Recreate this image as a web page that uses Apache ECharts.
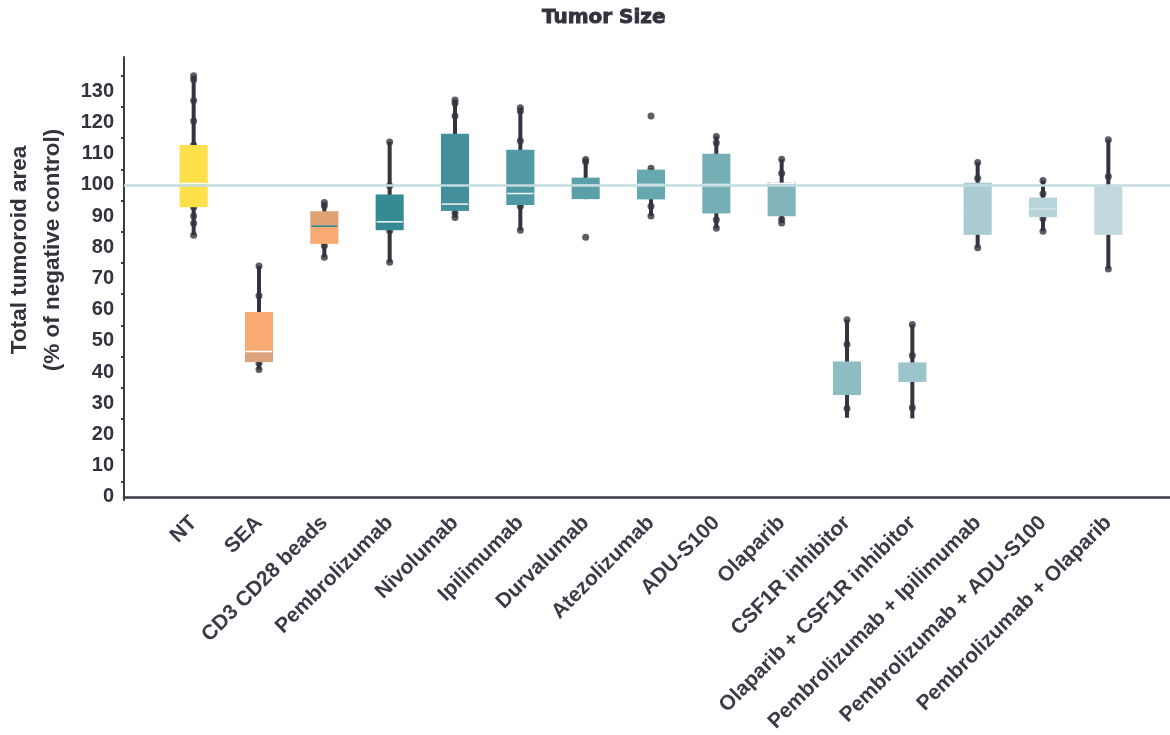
<!DOCTYPE html>
<html>
<head>
<meta charset="utf-8">
<title>Tumor Size</title>
<script src="https://cdn.jsdelivr.net/npm/echarts@6/dist/echarts.min.js"></script>
<style>
  html, body { margin: 0; padding: 0; background: #ffffff; }
  #chart { width: 1170px; height: 735px; }
</style>
</head>
<body>
<div id="chart"></div>
<script>
// Treatment groups along the x axis
const categories = [
  'NT', 'SEA', 'CD3 CD28 beads', 'Pembrolizumab', 'Nivolumab', 'Ipilimumab',
  'Durvalumab', 'Atezolizumab', 'ADU-S100', 'Olaparib', 'CSF1R inhibitor',
  'Olaparib + CSF1R inhibitor', 'Pembrolizumab + Ipilimumab',
  'Pembrolizumab + ADU-S100', 'Pembrolizumab + Olaparib'
];

// Box statistics per group: [whisker low, Q1, median, Q3, whisker high]
const boxStats = [
  [83.7, 92.7, 100.3, 112.7, 135.0],
  [40.4, 42.9, 46.3, 59.0, 73.8],
  [76.6, 80.9, 86.6, 91.4, 94.2],
  [75.0, 85.3, 88.0, 96.8, 113.7],
  [89.4, 91.5, 93.7, 116.3, 127.2],
  [85.3, 93.4, 97.1, 111.2, 124.7],
  [95.3, 95.3, 99.8, 102.2, 108.0],
  [89.9, 95.2, 100.0, 104.8, 105.2],
  [85.9, 90.7, 100.0, 109.9, 115.4],
  [87.6, 89.8, 100.3, 100.6, 108.1],
  [25.0, 32.3, 37.5, 43.1, 56.5],
  [24.8, 36.5, 39.5, 42.8, 55.0],
  [79.7, 83.8, 92.0, 100.6, 107.1],
  [85.0, 89.5, 92.2, 95.8, 101.3],
  [72.8, 83.8, 92.0, 99.4, 114.4]
];

// Individual replicate values per group
const points = [
  [135.0, 133.8, 127.0, 120.4, 112.7, 92.7, 89.9, 87.5, 83.7],
  [73.8, 64.2, 44.8, 42.5, 40.5],
  [94.2, 93.2, 88.2, 80.3, 76.6],
  [113.7, 99.6, 85.1, 75.0],
  [127.2, 126.1, 122.0, 90.8, 89.4],
  [124.7, 123.6, 114.1, 93.0, 85.3],
  [108.0, 107.3, 83.0],
  [122.0, 105.2, 93.0, 89.9],
  [115.4, 113.4, 88.7, 85.9],
  [108.1, 103.6, 88.8, 87.6],
  [56.5, 48.6, 28.0],
  [55.0, 45.0, 28.2],
  [107.1, 102.0, 79.7],
  [101.3, 97.0, 89.1, 85.0],
  [114.4, 102.6, 72.8]
];

// Negative-control reference level
const referenceLevel = 100;

// Axis label values and tick-mark values
const yLabelValues = [0, 10, 20, 30, 40, 50, 60, 70, 80, 90, 100, 110, 120, 130];
const yTickValues = [5, 15, 25, 35, 45, 55, 65, 75, 85, 95, 105, 115, 125, 135];

// Fill colours: lower half (Q1–median) and upper half (median–Q3) of each box
const lowerFill = ['#ffe04b', '#dca27b', '#f8aa72', '#368a93', '#438f9b', '#5199a4', '#5b9fa9',
  '#67a8b0', '#76aeb6', '#83b5bd', '#8dbcc3', '#9cc5cb', '#a9cbd1', '#b6d4d9', '#c2dadd'];
const upperFill = ['#ffe04b', '#f8aa72', '#e0a272', '#368a93', '#438f9b', '#5199a4', '#5b9fa9',
  '#67a8b0', '#76aeb6', '#83b5bd', '#8dbcc3', '#9cc5cb', '#a9cbd1', '#b6d4d9', '#c2dadd'];
const medianColor = ['#ffffff', '#ffffff', '#2f8a93', '#e8f2f3', '#e8f2f3', '#e8f2f3', '#e8f2f3',
  '#ffffff', '#ffffff', '#ffffff', '#8dbcc3', '#9cc5cb', '#a9cbd1', '#cfe2e5', '#c2dadd'];

const DARK = '#33343f';
const FONT = '"Liberation Sans", Arial, sans-serif';

const boxData = boxStats.map((s, i) => [i].concat(s));
const pointData = [];
points.forEach((arr, i) => arr.forEach(v => pointData.push([i, v])));

function renderWhisker(params, api) {
  const i = api.value(0);
  const lo = api.coord([i, api.value(1)]);
  const hi = api.coord([i, api.value(5)]);
  return {
    type: 'line',
    shape: { x1: lo[0], y1: lo[1], x2: hi[0], y2: hi[1] },
    style: { stroke: DARK, lineWidth: 4 }
  };
}

function renderBox(params, api) {
  const i = api.value(0);
  const w = api.size([1, 0])[0] * 0.43;
  const q1 = api.coord([i, api.value(2)]);
  const med = api.coord([i, api.value(3)]);
  const q3 = api.coord([i, api.value(4)]);
  const x = q1[0] - w / 2;
  return {
    type: 'group',
    children: [
      { type: 'rect', shape: { x: x, y: med[1], width: w, height: q1[1] - med[1] },
        style: { fill: lowerFill[i] } },
      { type: 'rect', shape: { x: x, y: q3[1], width: w, height: med[1] - q3[1] },
        style: { fill: upperFill[i] } },
      { type: 'line', shape: { x1: x + 1, y1: med[1], x2: x + w - 1, y2: med[1] },
        style: { stroke: medianColor[i], lineWidth: 1.6 } }
    ]
  };
}

const chart = echarts.init(document.getElementById('chart'), null, { renderer: 'canvas' });

const yRange = { min: -1, max: 141 };

chart.setOption({
  animation: false,
  backgroundColor: '#ffffff',
  title: {
    text: 'Tumor Size',
    left: 542,
    top: 8,
    padding: 0,
    textStyle: {
      fontFamily: '"DejaVu Sans", sans-serif', fontWeight: 'bold', fontSize: 20, color: '#32333d',
      textBorderColor: '#32333d', textBorderWidth: 0.9
    }
  },
  graphic: [{
    type: 'text',
    x: 36,
    y: 250,
    rotation: Math.PI / 2,
    style: {
      text: 'Total tumoroid area\n(% of negative control)',
      font: 'bold 22.5px ' + FONT,
      fill: '#32333d',
      align: 'center',
      verticalAlign: 'middle',
      lineHeight: 33
    }
  }],
  grid: [
    // plotting frame (axis lines, reference level)
    { left: 124, right: 0, top: 57, bottom: 235 },
    // box/point layer with group labels
    { left: 161, right: 29, top: 57, bottom: 235 }
  ],
  xAxis: [
    {
      type: 'value', gridIndex: 0, min: 0, max: 1,
      axisLine: { show: true, lineStyle: { color: '#3b3c46', width: 2.5 } },
      axisTick: { show: false }, axisLabel: { show: false }, splitLine: { show: false }
    },
    {
      type: 'category', gridIndex: 1, data: categories, boundaryGap: true,
      axisLine: { show: false }, axisTick: { show: false }, splitLine: { show: false },
      axisLabel: {
        interval: 0, rotate: 45, margin: 21,
        fontFamily: FONT, fontWeight: 'bold', fontSize: 21, color: '#3a3b47'
      }
    }
  ],
  yAxis: [
    {
      type: 'value', gridIndex: 0, min: yRange.min, max: yRange.max,
      axisLine: { show: true, lineStyle: { color: '#3b3c46', width: 2 } },
      axisTick: { show: true, length: 3, customValues: yTickValues, lineStyle: { color: '#3b3c46', width: 2 } },
      axisLabel: {
        customValues: yLabelValues, margin: 10,
        fontFamily: FONT, fontWeight: 'bold', fontSize: 20, color: '#32333d'
      },
      splitLine: { show: false }
    },
    {
      type: 'value', gridIndex: 1, min: yRange.min, max: yRange.max, show: false,
      splitLine: { show: false }
    }
  ],
  series: [
    {
      name: 'whiskers', type: 'custom', xAxisIndex: 1, yAxisIndex: 1, z: 1,
      renderItem: renderWhisker, data: boxData, silent: true
    },
    {
      name: 'replicates', type: 'scatter', xAxisIndex: 1, yAxisIndex: 1, z: 2,
      symbol: 'circle', symbolSize: 7, itemStyle: { color: DARK },
      data: pointData, silent: true
    },
    {
      name: 'boxes', type: 'custom', xAxisIndex: 1, yAxisIndex: 1, z: 3,
      renderItem: renderBox, data: boxData, silent: true
    },
    {
      name: 'reference', type: 'line', xAxisIndex: 0, yAxisIndex: 0, z: 4,
      data: [], silent: true,
      markLine: {
        silent: true, symbol: 'none', animation: false,
        label: { show: false },
        lineStyle: { color: '#c3dcdf', width: 2.5, type: 'solid' },
        data: [{ yAxis: referenceLevel }]
      }
    }
  ]
});
</script>
</body>
</html>
